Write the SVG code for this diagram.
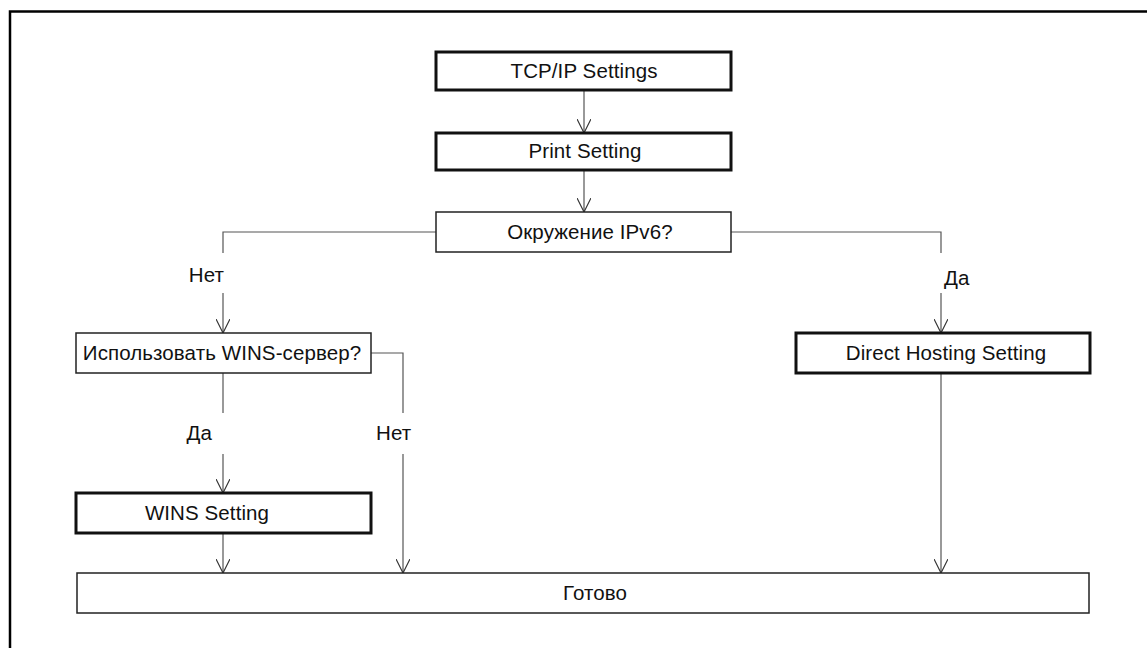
<svg xmlns="http://www.w3.org/2000/svg" width="1147" height="648" viewBox="0 0 1147 648">
<defs>
<marker id="arr" markerWidth="14" markerHeight="14" refX="12" refY="6" orient="auto" markerUnits="userSpaceOnUse" viewBox="0 0 12 12">
<path d="M0,0 L12,6 L0,12" fill="none" stroke="#333" stroke-width="1"/>
</marker>
<style>
text{font-family:"Liberation Sans",Arial,sans-serif;font-size:20.5px;fill:#111;letter-spacing:0.1px}
.thick{fill:#fff;stroke:#111;stroke-width:3}
.thin{fill:#fff;stroke:#222;stroke-width:1.5}
.ln{fill:none;stroke:#555;stroke-width:1.2}
.mid{text-anchor:middle}
.end{text-anchor:end}
</style>
</defs>
<rect width="1147" height="648" fill="#fff"/>
<path d="M10,648 V11.5 H1147" fill="none" stroke="#000" stroke-width="2.5"/>
<g id="connectors">
<path class="ln" d="M584,90 V133" marker-end="url(#arr)"/>
<path class="ln" d="M584,170 V212" marker-end="url(#arr)"/>
<path class="ln" d="M436,232 H223 V253"/>
<path class="ln" d="M223,293 V333" marker-end="url(#arr)"/>
<path class="ln" d="M731,232 H941 V253"/>
<path class="ln" d="M941,293 V333" marker-end="url(#arr)"/>
<path class="ln" d="M223,373 V413"/>
<path class="ln" d="M223,454 V493" marker-end="url(#arr)"/>
<path class="ln" d="M371,353 H403 V413"/>
<path class="ln" d="M403,454 V573" marker-end="url(#arr)"/>
<path class="ln" d="M223,533 V573" marker-end="url(#arr)"/>
<path class="ln" d="M941,373 V573" marker-end="url(#arr)"/>
</g>
<g id="labels">
<text class="end" x="224" y="282">Нет</text>
<text x="944" y="285">Да</text>
<text class="end" x="212" y="440">Да</text>
<text x="376" y="440">Нет</text>
</g>
<g id="tcpip"><rect class="thick" x="436" y="52" width="295" height="38"/><text class="mid" x="584" y="78">TCP/IP Settings</text></g>
<g id="print"><rect class="thick" x="436" y="133" width="295" height="37"/><text class="mid" x="585" y="158">Print Setting</text></g>
<g id="ipv6"><rect class="thin" x="436" y="212" width="295" height="40"/><text class="mid" x="590" y="239">Окружение IPv6?</text></g>
<g id="wins-q"><rect class="thin" x="76" y="333" width="295" height="40"/><text class="mid" x="222" y="360">Использовать WINS-сервер?</text></g>
<g id="direct"><rect class="thick" x="796" y="333" width="294" height="40"/><text class="mid" x="946" y="360">Direct Hosting Setting</text></g>
<g id="wins"><rect class="thick" x="76" y="493" width="295" height="40"/><text class="mid" x="207" y="520">WINS Setting</text></g>
<g id="done"><rect class="thin" x="77" y="573" width="1012" height="40"/><text class="mid" x="595" y="600">Готово</text></g>
</svg>
